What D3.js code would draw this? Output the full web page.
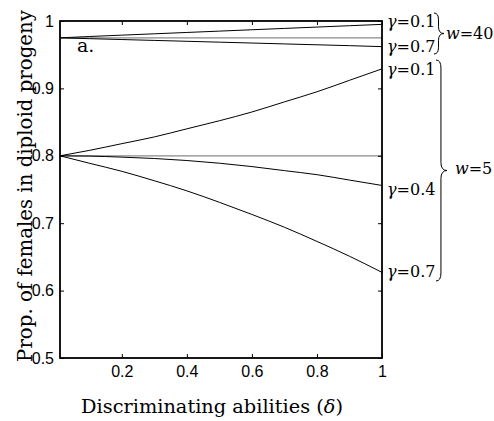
<!DOCTYPE html>
<html>
<head>
<meta charset="utf-8">
<script src="https://cdn.jsdelivr.net/npm/d3@7"></script>
<style>
  html, body { margin: 0; padding: 0; background: #fff; }
  svg { display: block; }
</style>
</head>
<body>
<svg id="chart" width="494" height="421"></svg>
<script>
// ---- data ----
const delta = [0.01, 0.1, 0.2, 0.3, 0.4, 0.5, 0.6, 0.7, 0.8, 0.9, 1.0];
const w5_g01 = [0.800, 0.808, 0.818, 0.828, 0.840, 0.852, 0.865, 0.880, 0.895, 0.912, 0.929];
const w5_g04 = [0.800, 0.7996, 0.798, 0.796, 0.793, 0.789, 0.784, 0.778, 0.772, 0.764, 0.756];
const w5_g07 = [0.800, 0.789, 0.777, 0.763, 0.748, 0.731, 0.713, 0.694, 0.673, 0.651, 0.627];
const w40_g01 = [0.975, 0.977, 0.979, 0.981, 0.983, 0.985, 0.987, 0.989, 0.991, 0.993, 0.995];
const w40_g07 = [0.975, 0.9738, 0.9725, 0.9712, 0.9699, 0.9686, 0.9673, 0.966, 0.9647, 0.9634, 0.962];
const baseline_w5 = [0.8, 0.8];
const baseline_w40 = [0.975, 0.975];
const baselineX = [0.01, 1.0];
const xTicks = [0.2, 0.4, 0.6, 0.8, 1];
const yTicks = [0.5, 0.6, 0.7, 0.8, 0.9, 1];
const curveLabels = ["0.1", "0.7", "0.1", "0.4", "0.7"];
const groupLabels = ["40", "5"];

// ---- layout ----
const mL = 60, mR = 382, mT = 21, mB = 358;
const svg = d3.select("#chart");
const x = d3.scaleLinear().domain([0.01, 1]).range([mL, mR]);
const y = d3.scaleLinear().domain([0.5, 1]).range([mB, mT]);

const sans = "'Liberation Sans', Arial, sans-serif";
const serif = "'DejaVu Serif', serif";

// data lines
const line = d3.line().x(d => x(d[0])).y(d => y(d[1])).curve(d3.curveMonotoneX);
function draw(xs, ys, color, w) {
  svg.append("path")
    .datum(xs.map((v, i) => [v, ys[i]]))
    .attr("d", line)
    .attr("fill", "none")
    .attr("stroke", color)
    .attr("stroke-width", w);
}
draw(baselineX, baseline_w5, "#8a8a8a", 1.3);
draw(baselineX, baseline_w40, "#8a8a8a", 1.3);
draw(delta, w5_g01, "#000", 1);
draw(delta, w5_g04, "#000", 1);
draw(delta, w5_g07, "#000", 1);
draw(delta, w40_g01, "#000", 1);
draw(delta, w40_g07, "#000", 1);

// axes (matlab box, ticks inside, mirrored)
const tl = 4;
const gx = svg.append("g").attr("transform", `translate(0,${mB})`)
  .call(d3.axisBottom(x).tickValues(xTicks).tickSizeInner(-tl).tickSizeOuter(0).tickPadding(10)
    .tickFormat(d3.format("~g")));
const gxt = svg.append("g").attr("transform", `translate(0,${mT})`)
  .call(d3.axisTop(x).tickValues(xTicks).tickSizeInner(-tl).tickSizeOuter(0).tickFormat(""));
const gy = svg.append("g").attr("transform", `translate(${mL},0)`)
  .call(d3.axisLeft(y).tickValues(yTicks).tickSizeInner(-tl).tickSizeOuter(0).tickPadding(6)
    .tickFormat(d3.format("~g")));
const gyr = svg.append("g").attr("transform", `translate(${mR},0)`)
  .call(d3.axisRight(y).tickValues(yTicks).tickSizeInner(-tl).tickSizeOuter(0).tickFormat(""));
[gx, gxt, gy, gyr].forEach(g => {
  g.select(".domain").remove();
  g.selectAll(".tick line").attr("stroke", "#000").attr("stroke-width", 1);
  g.selectAll("text").attr("font-family", sans).attr("font-size", 16).attr("fill", "#000");
});
gx.selectAll("text").attr("dy", "0.71em").attr("y", 8);
svg.append("rect").attr("x", mL).attr("y", mT)
  .attr("width", mR - mL).attr("height", mB - mT)
  .attr("fill", "none").attr("stroke", "#000").attr("stroke-width", 1.8);

// axis titles
function fit(t, target) {
  const w = t.node().getComputedTextLength();
  const fs = parseFloat(t.attr("font-size"));
  t.attr("font-size", fs * target / w);
}
const xt = svg.append("text").attr("x", 212).attr("y", 413)
  .attr("text-anchor", "middle").attr("font-family", serif).attr("font-size", 18).attr("fill", "#000");
xt.append("tspan").text("Discriminating abilities (");
xt.append("tspan").attr("font-style", "italic").text("δ");
xt.append("tspan").text(")");
fit(xt, 262);

const yt = svg.append("text").attr("transform", "translate(32,186) rotate(-90)")
  .attr("text-anchor", "middle").attr("font-family", serif).attr("font-size", 18).attr("fill", "#000")
  .text("Prop. of females in diploid progeny");
fit(yt, 352);

svg.append("text").attr("x", 77).attr("y", 52).attr("font-family", serif)
  .attr("font-size", 19).attr("fill", "#000").text("a.");

// curve labels
const ends = [w40_g01, w40_g07, w5_g01, w5_g04, w5_g07].map(a => a[a.length - 1]);
const labelDy = [3, 5, 6, 10, 5];
ends.forEach((v, i) => {
  const t = svg.append("text").attr("x", mR + 5).attr("y", y(v) + labelDy[i])
    .attr("font-family", serif).attr("font-size", 16).attr("fill", "#000");
  t.append("tspan").attr("font-style", "italic").text("γ");
  t.append("tspan").text("=" + curveLabels[i]);
});

// braces
function brace(x0, y1, y2, w) {
  const ym = (y1 + y2) / 2, xm = x0 + w * 0.45, q = Math.min(8, (y2 - y1) / 6);
  return `M${x0},${y1} Q${xm},${y1} ${xm},${y1 + q} L${xm},${ym - q} Q${xm},${ym} ${x0 + w},${ym}`
    + ` Q${xm},${ym} ${xm},${ym + q} L${xm},${y2 - q} Q${xm},${y2} ${x0},${y2}`;
}
svg.append("path").attr("d", brace(434, 13, 54, 10)).attr("fill", "none").attr("stroke", "#000").attr("stroke-width", 1);
svg.append("path").attr("d", brace(436, 60, 281, 11)).attr("fill", "none").attr("stroke", "#000").attr("stroke-width", 1);

const g1 = svg.append("text").attr("x", 446).attr("y", 39).attr("font-family", serif).attr("font-size", 16).attr("fill", "#000");
g1.append("tspan").attr("font-style", "italic").text("w");
g1.append("tspan").text("=" + groupLabels[0]);
const g2 = svg.append("text").attr("x", 455).attr("y", 174).attr("font-family", serif).attr("font-size", 16).attr("fill", "#000");
g2.append("tspan").attr("font-style", "italic").text("w");
g2.append("tspan").text("=" + groupLabels[1]);
</script>
</body>
</html>
